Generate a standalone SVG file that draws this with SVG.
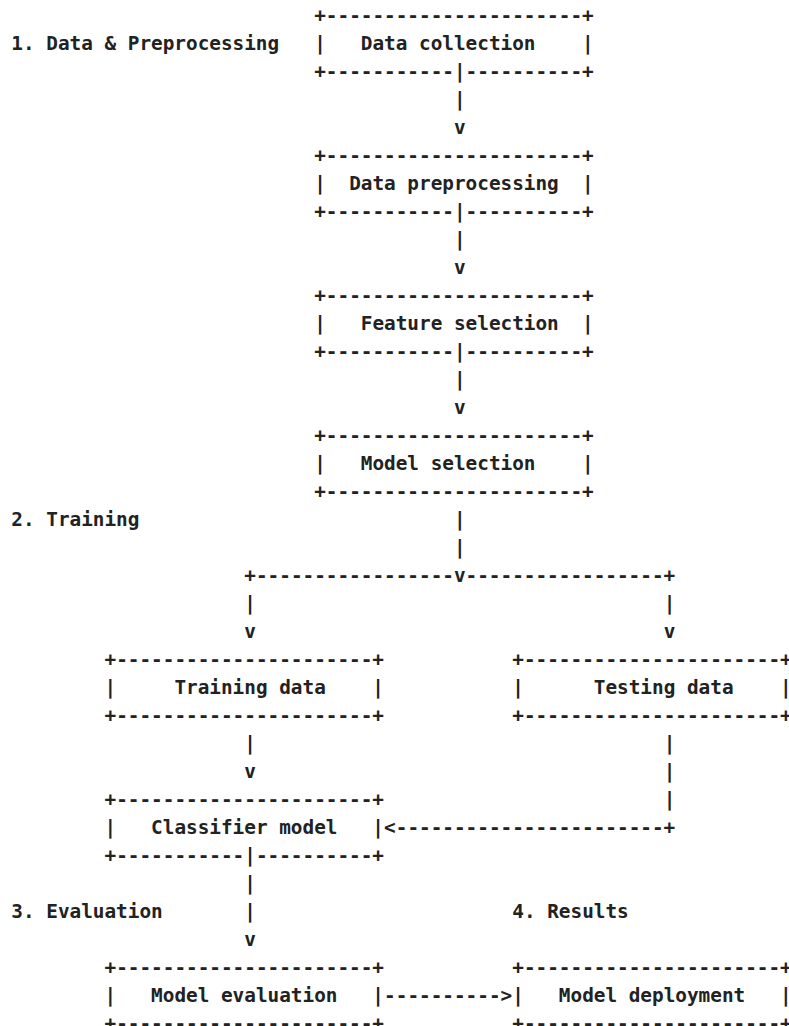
<svg xmlns="http://www.w3.org/2000/svg" width="789" height="1026" viewBox="0 0 789 1026">
<style>
text { font-family: "DejaVu Sans Mono", "Liberation Mono", monospace; font-size: 19.35px; font-weight: bold; fill: #222; white-space: pre; }
</style>
<rect width="789" height="1026" fill="#ffffff"/>
<g id="labels">
<text x="11.3" y="49.5">1. Data &amp; Preprocessing</text>
<text x="11.3" y="525.5">2. Training</text>
<text x="11.3" y="917.5">3. Evaluation</text>
<text x="512.25" y="917.5">4. Results</text>
</g>
<g id="data-collection">
<text x="314.2" y="21.5">+----------------------+</text>
<text x="314.2" y="49.5" xml:space="preserve">|   Data collection    |</text>
<text x="314.2" y="77.5">+-----------|----------+</text>
</g>
<g id="data-preprocessing">
<text x="314.2" y="161.5">+----------------------+</text>
<text x="314.2" y="189.5" xml:space="preserve">|  Data preprocessing  |</text>
<text x="314.2" y="217.5">+-----------|----------+</text>
</g>
<g id="feature-selection">
<text x="314.2" y="301.5">+----------------------+</text>
<text x="314.2" y="329.5" xml:space="preserve">|   Feature selection  |</text>
<text x="314.2" y="357.5">+-----------|----------+</text>
</g>
<g id="model-selection">
<text x="314.2" y="441.5">+----------------------+</text>
<text x="314.2" y="469.5" xml:space="preserve">|   Model selection    |</text>
<text x="314.2" y="497.5">+----------------------+</text>
</g>
<g id="training-data">
<text x="104.5" y="665.5">+----------------------+</text>
<text x="104.5" y="693.5" xml:space="preserve">|     Training data    |</text>
<text x="104.5" y="721.5">+----------------------+</text>
</g>
<g id="testing-data">
<text x="512.25" y="665.5">+----------------------+</text>
<text x="512.25" y="693.5" xml:space="preserve">|      Testing data    |</text>
<text x="512.25" y="721.5">+----------------------+</text>
</g>
<g id="classifier-model">
<text x="104.5" y="805.5">+----------------------+</text>
<text x="104.5" y="833.5" xml:space="preserve">|   Classifier model   |</text>
<text x="104.5" y="861.5">+-----------|----------+</text>
</g>
<g id="model-evaluation">
<text x="104.5" y="973.5">+----------------------+</text>
<text x="104.5" y="1001.5" xml:space="preserve">|   Model evaluation   |</text>
<text x="104.5" y="1029.5">+----------------------+</text>
</g>
<g id="model-deployment">
<text x="512.25" y="973.5">+----------------------+</text>
<text x="512.25" y="1001.5" xml:space="preserve">|   Model deployment   |</text>
<text x="512.25" y="1029.5">+----------------------+</text>
</g>
<g id="connectors">
<text x="454" y="105.5">|</text>
<text x="454" y="133.5">v</text>
<text x="454" y="245.5">|</text>
<text x="454" y="273.5">v</text>
<text x="454" y="385.5">|</text>
<text x="454" y="413.5">v</text>
<text x="454" y="525.5">|</text>
<text x="454" y="553.5">|</text>
<text x="244.3" y="581.5">+-----------------v-----------------+</text>
<text x="244.3" y="609.5">|</text>
<text x="663.7" y="609.5">|</text>
<text x="244.3" y="637.5">v</text>
<text x="663.7" y="637.5">v</text>
<text x="244.3" y="749.5">|</text>
<text x="663.7" y="749.5">|</text>
<text x="244.3" y="777.5">v</text>
<text x="663.7" y="777.5">|</text>
<text x="663.7" y="805.5">|</text>
<text x="384.1" y="833.5">&lt;-----------------------+</text>
<text x="244.3" y="889.5">|</text>
<text x="244.3" y="917.5">|</text>
<text x="244.3" y="945.5">v</text>
<text x="384.1" y="1001.5">----------&gt;</text>
</g>
</svg>
